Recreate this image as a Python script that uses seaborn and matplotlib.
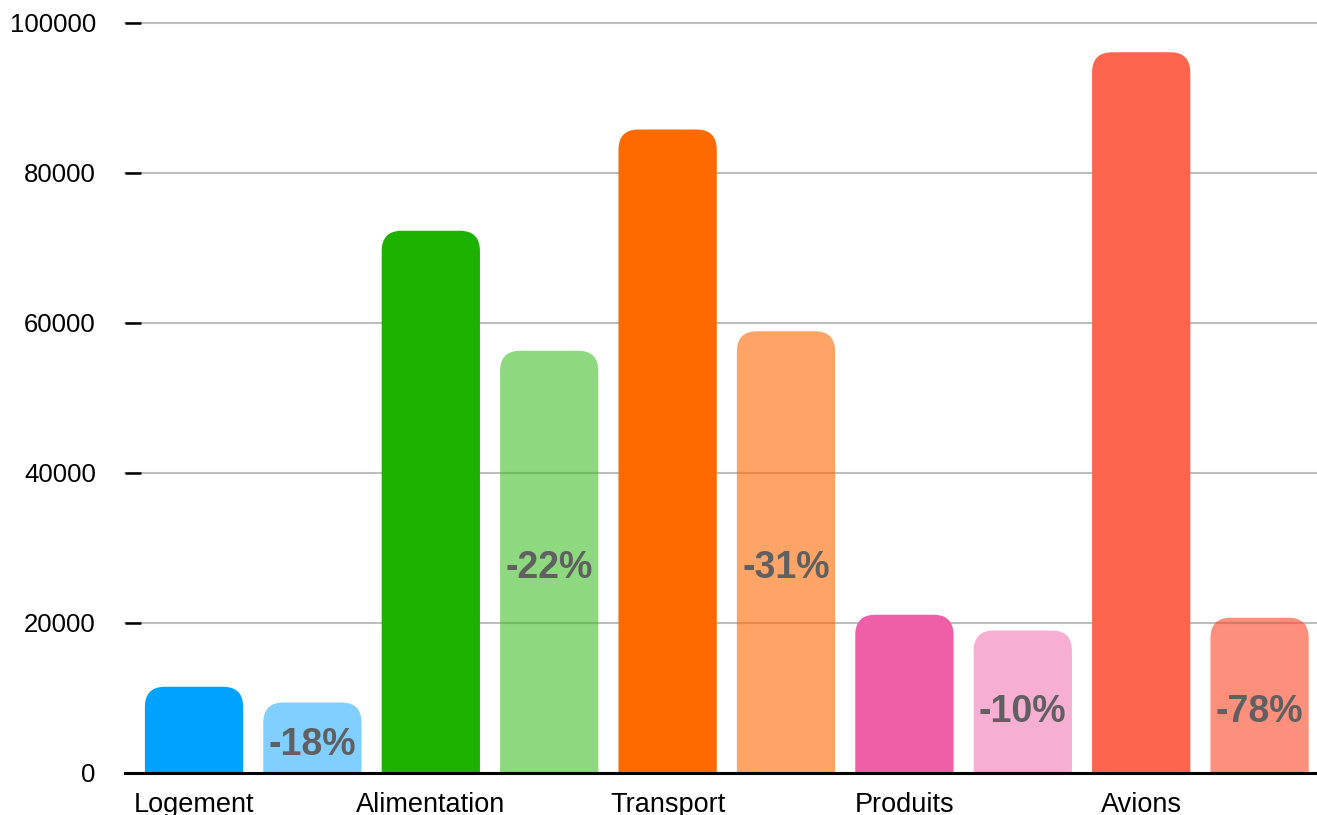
import matplotlib
matplotlib.use("Agg")
import matplotlib.pyplot as plt
from matplotlib.path import Path
from matplotlib.patches import PathPatch
from matplotlib import colors as mcolors
import seaborn as sns
import pandas as pd

# Données
categories = ['Logement', 'Alimentation', 'Transport', 'Produits', 'Avions']
avant = [11500, 72300, 85800, 21100, 96100]
apres = [9400, 56300, 58900, 19000, 20700]
reductions = ['-18%', '-22%', '-31%', '-10%', '-78%']
pos_texte = [3700, 27300, 27300, 8100, 8100]

couleurs = ['#00A2FF', '#1DB100', '#FF6A00', '#EF5FA7', '#FF644E']
couleurs_claires = ['#80CFFF', '#8ED880', '#FFA463', '#F6AED3', '#FF8F7D']
ALPHA = 0.6


def base_translucide(hexa, a=ALPHA):
    # couleur rgba qui donne la teinte claire sur fond blanc
    r, g, b = mcolors.to_rgb(hexa)
    f = lambda c: min(max((c - (1 - a)) / a, 0), 1)
    return (f(r), f(g), f(b), a)


barres, valeurs, palette = [], [], {}
for i, cat in enumerate(categories):
    for j, (v, col) in enumerate([(avant[i], couleurs[i]),
                                  (apres[i], base_translucide(couleurs_claires[i]))]):
        nom = f'{cat}_{j}'
        barres.append(nom)
        valeurs.append(v)
        palette[nom] = col

df = pd.DataFrame({'barre': barres, 'valeur': valeurs})

sns.set_style('white')
plt.rcParams['font.family'] = ['Liberation Sans', 'DejaVu Sans']

fig = plt.figure(figsize=(13.17, 8.15), dpi=100)
ax = fig.add_axes([125 / 1317, 42 / 815, 1 - 125 / 1317, 750 / 815])

sns.barplot(data=df, x='barre', y='valeur', hue='barre', palette=palette,
            order=barres, legend=False, width=0.83, ax=ax, saturation=1)

ax.set_xlim(-0.583, 9.485)
ax.set_ylim(0, 100000)

# coins arrondis en haut
rx = 0.17
ry = 2700
for p in list(ax.patches):
    x0, y0 = p.get_x(), p.get_y()
    w, h = p.get_width(), p.get_height()
    x1, y1 = x0 + w, y0 + h
    verts = [(x0, y0), (x0, y1 - ry), (x0, y1), (x0 + rx, y1),
             (x1 - rx, y1), (x1, y1), (x1, y1 - ry), (x1, y0), (x0, y0)]
    codes = [Path.MOVETO, Path.LINETO, Path.CURVE3, Path.CURVE3,
             Path.LINETO, Path.CURVE3, Path.CURVE3, Path.LINETO, Path.CLOSEPOLY]
    pp = PathPatch(Path(verts, codes), facecolor=p.get_facecolor(),
                   edgecolor='none', zorder=2)
    ax.add_patch(pp)
    p.remove()

# étiquettes de réduction
for i, txt in enumerate(reductions):
    ax.text(2 * i + 1, pos_texte[i], txt, ha='center', va='center',
            fontsize=27, fontweight='bold', color='#606060', zorder=3)

ax.set_yticks(range(0, 100001, 20000))
ax.yaxis.grid(True, color='#BDBDBD', linewidth=1.5, zorder=0)
ax.set_axisbelow(True)
for gl in ax.get_ygridlines():
    gl.set_clip_on(False)

ax.set_xticks([0, 2, 4, 6, 8])
ax.set_xticklabels(categories)
ax.tick_params(axis='x', length=0, pad=14, labelsize=19.5, labelcolor='black')
ax.tick_params(axis='y', left=True, direction='in', length=11.5, width=1.8,
               color='black', pad=21, labelsize=18.5, labelcolor='black')
ax.set_xlabel('')
ax.set_ylabel('')

for s in ['top', 'right', 'left']:
    ax.spines[s].set_visible(False)
ax.spines['bottom'].set_color('black')
ax.spines['bottom'].set_linewidth(2.2)
ax.spines['bottom'].set_zorder(4)

fig.savefig('out.png', dpi=100)
